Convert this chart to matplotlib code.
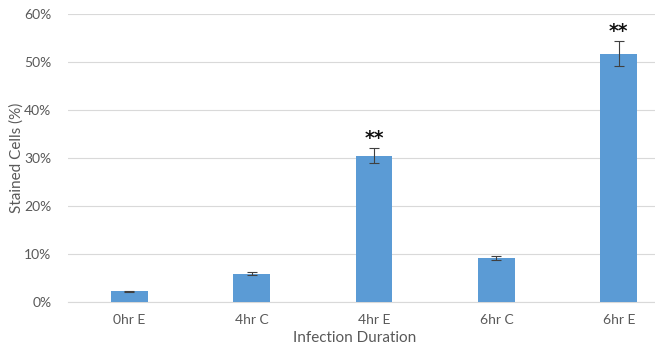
import matplotlib
matplotlib.use("Agg")
import matplotlib.pyplot as plt
from matplotlib.ticker import PercentFormatter

categories = ["0hr E", "4hr C", "4hr E", "6hr C", "6hr E"]
values = [2.2, 5.9, 30.5, 9.2, 51.7]
errors = [0.15, 0.3, 1.5, 0.45, 2.6]
annotations = ["", "", "**", "", "**"]
yticks = [0, 10, 20, 30, 40, 50, 60]

plt.rcParams['font.family'] = ['Lato', 'DejaVu Sans']
fig = plt.figure(figsize=(6.55, 3.45), dpi=100)
W, H = 655, 345
left, right, bottom, top = 68, 680, 43, 14
ax = fig.add_axes([left / W, bottom / H, (right - left) / W, (H - bottom - top) / H])

x = range(len(categories))
ax.bar(x, values, width=0.3, color="#5B9BD5", zorder=3,
       yerr=errors, error_kw=dict(ecolor="#404040", elinewidth=0.8, capsize=3.5, capthick=0.8))
for i, (v, e, a) in enumerate(zip(values, errors, annotations)):
    if a:
        ax.text(i, v + e + 0.9, a, ha="center", va="baseline", fontsize=13.5,
                fontweight="bold", color="#111111", family=["DejaVu Sans"])

ax.set_xlim(-0.5, len(categories) - 0.5)
ax.set_ylim(0, 60)
ax.set_yticks(yticks)
ax.yaxis.set_major_formatter(PercentFormatter(decimals=0))
ax.set_xticks(list(x))
ax.set_xticklabels(categories)
ax.grid(axis="y", color="#D9D9D9", linewidth=0.8, zorder=0)
for s in ["top", "right", "left"]:
    ax.spines[s].set_visible(False)
ax.spines["bottom"].set_color("#D9D9D9")
ax.tick_params(axis="both", length=0, colors="#595959", labelsize=10)
ax.tick_params(axis="x", pad=9)
ax.tick_params(axis="y", pad=12)
ax.set_xlabel("Infection Duration", color="#595959", fontsize=11)
ax.xaxis.set_label_coords((355 - left) / (right - left), -0.1)
ax.set_ylabel("Stained Cells (%)", color="#595959", fontsize=11)
ax.yaxis.set_label_coords(-(68 - 24) / (right - left), 0.5)

fig.savefig("out.png", dpi=100)
